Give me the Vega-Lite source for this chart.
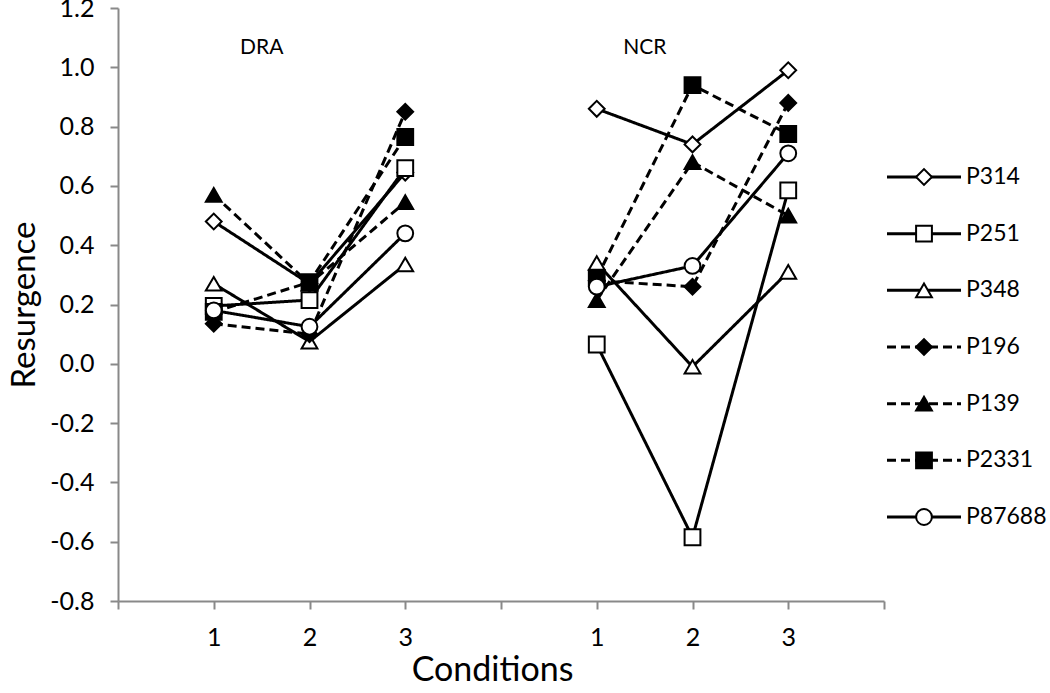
{
  "$schema": "https://vega.github.io/schema/vega-lite/v6.json",
  "padding": {"left": 8, "top": -4, "right": 0, "bottom": 0},
  "spacing": 0,
  "config": {"view": {"stroke": null}, "font": "Lato"},
  "datasets": {
    "scores": [
      {"p": "P314", "phase": "DRA", "cond": "DRA 1", "v": 0.48},
      {"p": "P314", "phase": "DRA", "cond": "DRA 2", "v": 0.27},
      {"p": "P314", "phase": "DRA", "cond": "DRA 3", "v": 0.645},
      {"p": "P314", "phase": "NCR", "cond": "NCR 1", "v": 0.86},
      {"p": "P314", "phase": "NCR", "cond": "NCR 2", "v": 0.74},
      {"p": "P314", "phase": "NCR", "cond": "NCR 3", "v": 0.99},
      {"p": "P251", "phase": "DRA", "cond": "DRA 1", "v": 0.195},
      {"p": "P251", "phase": "DRA", "cond": "DRA 2", "v": 0.215},
      {"p": "P251", "phase": "DRA", "cond": "DRA 3", "v": 0.66},
      {"p": "P251", "phase": "NCR", "cond": "NCR 1", "v": 0.065},
      {"p": "P251", "phase": "NCR", "cond": "NCR 2", "v": -0.585},
      {"p": "P251", "phase": "NCR", "cond": "NCR 3", "v": 0.585},
      {"p": "P348", "phase": "DRA", "cond": "DRA 1", "v": 0.27},
      {"p": "P348", "phase": "DRA", "cond": "DRA 2", "v": 0.075},
      {"p": "P348", "phase": "DRA", "cond": "DRA 3", "v": 0.335},
      {"p": "P348", "phase": "NCR", "cond": "NCR 1", "v": 0.34},
      {"p": "P348", "phase": "NCR", "cond": "NCR 2", "v": -0.01},
      {"p": "P348", "phase": "NCR", "cond": "NCR 3", "v": 0.31},
      {"p": "P196", "phase": "DRA", "cond": "DRA 1", "v": 0.135},
      {"p": "P196", "phase": "DRA", "cond": "DRA 2", "v": 0.1},
      {"p": "P196", "phase": "DRA", "cond": "DRA 3", "v": 0.85},
      {"p": "P196", "phase": "NCR", "cond": "NCR 1", "v": 0.28},
      {"p": "P196", "phase": "NCR", "cond": "NCR 2", "v": 0.26},
      {"p": "P196", "phase": "NCR", "cond": "NCR 3", "v": 0.88},
      {"p": "P139", "phase": "DRA", "cond": "DRA 1", "v": 0.57},
      {"p": "P139", "phase": "DRA", "cond": "DRA 2", "v": 0.27},
      {"p": "P139", "phase": "DRA", "cond": "DRA 3", "v": 0.545},
      {"p": "P139", "phase": "NCR", "cond": "NCR 1", "v": 0.215},
      {"p": "P139", "phase": "NCR", "cond": "NCR 2", "v": 0.68},
      {"p": "P139", "phase": "NCR", "cond": "NCR 3", "v": 0.5},
      {"p": "P2331", "phase": "DRA", "cond": "DRA 1", "v": 0.175},
      {"p": "P2331", "phase": "DRA", "cond": "DRA 2", "v": 0.275},
      {"p": "P2331", "phase": "DRA", "cond": "DRA 3", "v": 0.765},
      {"p": "P2331", "phase": "NCR", "cond": "NCR 1", "v": 0.29},
      {"p": "P2331", "phase": "NCR", "cond": "NCR 2", "v": 0.94},
      {"p": "P2331", "phase": "NCR", "cond": "NCR 3", "v": 0.775},
      {"p": "P87688", "phase": "DRA", "cond": "DRA 1", "v": 0.18},
      {"p": "P87688", "phase": "DRA", "cond": "DRA 2", "v": 0.125},
      {"p": "P87688", "phase": "DRA", "cond": "DRA 3", "v": 0.44},
      {"p": "P87688", "phase": "NCR", "cond": "NCR 1", "v": 0.26},
      {"p": "P87688", "phase": "NCR", "cond": "NCR 2", "v": 0.33},
      {"p": "P87688", "phase": "NCR", "cond": "NCR 3", "v": 0.71}
    ],
    "groups": [
      {"label": "DRA", "cond": "DRA 1", "v": 1.065},
      {"label": "NCR", "cond": "NCR 1", "v": 1.065}
    ],
    "people": [
      {"p": "P314"}, {"p": "P251"}, {"p": "P348"}, {"p": "P196"},
      {"p": "P139"}, {"p": "P2331"}, {"p": "P87688"}
    ]
  },
  "hconcat": [
    {
      "width": 766,
      "height": 593,
      "layer": [
        {
          "data": {"name": "scores"},
          "mark": {"type": "line", "color": "black", "strokeWidth": 3},
          "encoding": {
            "x": {
              "field": "cond", "type": "ordinal",
              "scale": {"type": "point", "padding": 0, "domain": ["s", "DRA 1", "DRA 2", "DRA 3", "gap", "NCR 1", "NCR 2", "NCR 3", "e"]},
              "axis": {
                "title": "Conditions", "titleFontSize": 34, "titleFontWeight": "normal", "titleColor": "black", "titlePadding": 3, "titleX": 374,
                "labelExpr": "substring(datum.value, 4)", "labelAngle": 0, "labelFontSize": 25, "labelColor": "black", "labelPadding": 16,
                "domainColor": "#898989", "domainWidth": 2, "tickColor": "#898989", "tickWidth": 2, "tickSize": 8, "grid": false
              }
            },
            "y": {
              "field": "v", "type": "quantitative",
              "scale": {"domain": [-0.8, 1.2], "nice": false, "zero": false},
              "axis": {
                "title": "Resurgence", "titleFontSize": 33, "titleFontWeight": "normal", "titleColor": "black", "titlePadding": 8,
                "values": [-0.8, -0.6, -0.4, -0.2, 0, 0.2, 0.4, 0.6, 0.8, 1.0, 1.2],
                "labelExpr": "replace(format(datum.value, '.1f'), '\u2212', '-')",
                "labelFontSize": 25, "labelColor": "black", "labelPadding": 16,
                "domainColor": "#898989", "domainWidth": 2, "tickColor": "#898989", "tickWidth": 2, "tickSize": 8, "grid": false
              }
            },
            "detail": {"field": "phase"},
            "strokeDash": {
              "field": "p", "type": "nominal",
              "scale": {"domain": ["P314", "P251", "P348", "P196", "P139", "P2331", "P87688"], "range": [[1, 0], [1, 0], [1, 0], [9, 5], [9, 5], [9, 5], [1, 0]]},
              "legend": null
            }
          }
        },
        {
          "data": {"name": "scores"},
          "mark": {"type": "point", "filled": true, "stroke": "black", "strokeWidth": 2, "size": 250, "opacity": 1},
          "encoding": {
            "x": {"field": "cond", "type": "ordinal"},
            "y": {"field": "v", "type": "quantitative"},
            "shape": {
              "field": "p", "type": "nominal",
              "scale": {"domain": ["P314", "P251", "P348", "P196", "P139", "P2331", "P87688"], "range": ["diamond", "square", "triangle-up", "diamond", "triangle-up", "square", "circle"]},
              "legend": null
            },
            "fill": {
              "field": "p", "type": "nominal",
              "scale": {"domain": ["P314", "P251", "P348", "P196", "P139", "P2331", "P87688"], "range": ["white", "white", "white", "black", "black", "black", "white"]},
              "legend": null
            }
          }
        },
        {
          "data": {"name": "groups"},
          "mark": {"type": "text", "fontSize": 21, "dx": 48, "color": "black", "align": "center", "baseline": "middle"},
          "encoding": {
            "x": {"field": "cond", "type": "ordinal"},
            "y": {"field": "v", "type": "quantitative"},
            "text": {"field": "label"}
          }
        }
      ]
    },
    {
      "width": 148,
      "height": 593,
      "data": {"name": "people"},
      "layer": [
        {
          "mark": {"type": "rule", "color": "black", "strokeWidth": 3},
          "encoding": {
            "x": {"datum": 0, "type": "quantitative", "scale": {"domain": [0, 4]}, "axis": null},
            "x2": {"datum": 2},
            "y": {"field": "p", "type": "nominal", "scale": {"type": "point", "padding": 0, "range": [169, 509], "domain": ["P314", "P251", "P348", "P196", "P139", "P2331", "P87688"]}, "axis": null},
            "strokeDash": {
              "field": "p", "type": "nominal",
              "scale": {"domain": ["P314", "P251", "P348", "P196", "P139", "P2331", "P87688"], "range": [[1, 0], [1, 0], [1, 0], [9, 5], [9, 5], [9, 5], [1, 0]]},
              "legend": null
            }
          }
        },
        {
          "mark": {"type": "point", "filled": true, "stroke": "black", "strokeWidth": 2, "size": 250, "opacity": 1},
          "encoding": {
            "x": {"datum": 1, "type": "quantitative"},
            "y": {"field": "p", "type": "nominal"},
            "shape": {
              "field": "p", "type": "nominal",
              "scale": {"domain": ["P314", "P251", "P348", "P196", "P139", "P2331", "P87688"], "range": ["diamond", "square", "triangle-up", "diamond", "triangle-up", "square", "circle"]},
              "legend": null
            },
            "fill": {
              "field": "p", "type": "nominal",
              "scale": {"domain": ["P314", "P251", "P348", "P196", "P139", "P2331", "P87688"], "range": ["white", "white", "white", "black", "black", "black", "white"]},
              "legend": null
            }
          }
        },
        {
          "mark": {"type": "text", "fontSize": 23, "dx": 5, "align": "left", "baseline": "middle", "color": "black"},
          "encoding": {
            "x": {"datum": 2, "type": "quantitative"},
            "y": {"field": "p", "type": "nominal"},
            "text": {"field": "p"}
          }
        }
      ]
    }
  ]
}
